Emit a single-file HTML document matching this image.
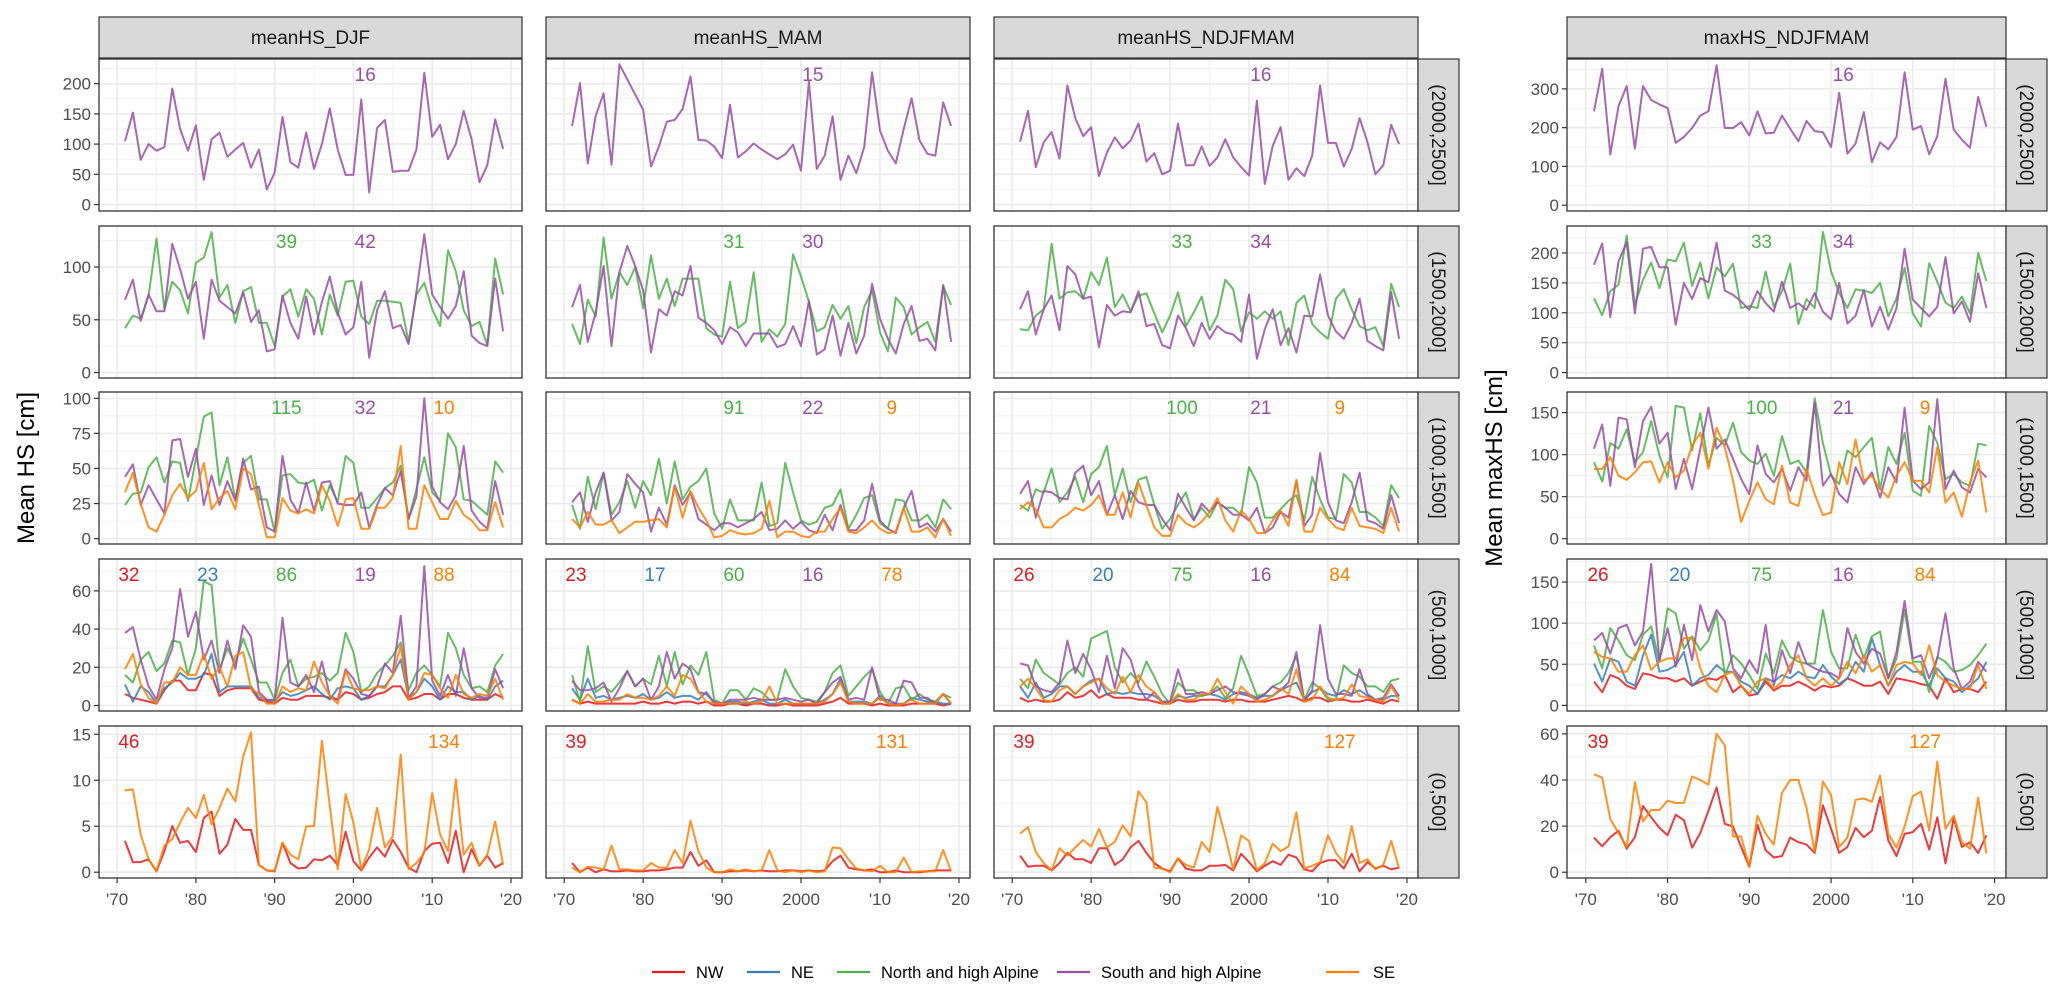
<!DOCTYPE html>
<html><head><meta charset="utf-8"><style>
html,body{margin:0;padding:0;background:#fff;}
svg{display:block;font-family:"Liberation Sans",Arial,sans-serif;}
</style></head><body>
<svg id="chart" width="2067" height="1002" viewBox="0 0 2067 1002" xmlns="http://www.w3.org/2000/svg">
<rect x="0" y="0" width="2067" height="1002" fill="#fff"/>
<text x="0" y="0" transform="translate(34,468) rotate(-90)" text-anchor="middle" font-size="24" fill="#000">Mean HS [cm]</text>
<text x="0" y="0" transform="translate(1502,468) rotate(-90)" text-anchor="middle" font-size="24" fill="#000">Mean maxHS [cm]</text>
<g id="legend" font-size="16.5" fill="#000">
<g><line x1="652" y1="972" x2="685" y2="972" stroke="#E41A1C" stroke-width="2.2"/><text x="696" y="978">NW</text></g>
<g><line x1="747" y1="972" x2="780" y2="972" stroke="#377EB8" stroke-width="2.2"/><text x="791" y="978">NE</text></g>
<g><line x1="837" y1="972" x2="870" y2="972" stroke="#4DAF4A" stroke-width="2.2"/><text x="881" y="978">North and high Alpine</text></g>
<g><line x1="1057" y1="972" x2="1090" y2="972" stroke="#984EA3" stroke-width="2.2"/><text x="1101" y="978">South and high Alpine</text></g>
<g><line x1="1326" y1="972" x2="1359" y2="972" stroke="#FF7F00" stroke-width="2.2"/><text x="1373" y="978">SE</text></g>
</g>
</svg>
<script>
// ---------- data ----------
const years = Array.from({length:49},(_,i)=>1971+i);
const xTickValues = [1970,1980,1990,2000,2010,2020];
const xTickLabels = ["'70","'80","'90","2000","'10","'20"];
const columnTitles = ["meanHS_DJF","meanHS_MAM","meanHS_NDJFMAM","maxHS_NDJFMAM"];
const rowTitles = ["(2000,2500]","(1500,2000]","(1000,1500]","(500,1000]","(0,500]"];
const regions = ["NW","NE","N","S","SE"];

// row 1 (2000,2500]
const djf_r1_S = [105,152,74,100,89,95,192,125,89,131,41,108,119,79,91,102,61,91,25,53,145,70,61,119,59,100,159,91,49,49,174,20,127,140,54,56,56,91,218,112,132,75,100,155,108,37,65,141,92];
const mam_r1_S = [130,201,68,147,184,66,232,207,182,157,63,96,137,140,158,212,107,106,96,77,165,78,88,101,91,83,75,83,99,56,203,59,81,146,41,81,52,95,219,122,89,68,125,176,106,84,81,169,130];
const ndj_r1_S = [104,155,62,103,120,76,197,143,113,128,47,86,111,93,106,134,71,85,50,56,134,65,65,96,64,78,108,78,62,48,172,34,97,128,41,60,47,81,197,102,102,63,92,143,103,50,65,132,100];
const max_r1_S = [242,352,131,255,307,146,307,271,260,251,161,176,199,231,242,361,199,199,214,180,242,185,187,231,197,165,217,191,188,150,290,133,159,240,111,162,144,176,343,195,204,131,178,326,195,169,148,279,202];
// row 2 (1500,2000]
const djf_r2_S = [69,88,49,74,58,58,122,98,70,86,32,88,68,62,56,76,48,59,20,22,73,47,32,72,36,67,91,57,36,43,86,14,59,77,42,45,27,76,131,74,62,51,63,96,35,28,25,89,39];
const djf_r2_N = [42,54,51,73,127,60,86,78,56,104,109,133,71,83,47,77,81,47,47,25,72,79,53,79,70,36,74,54,86,87,53,46,68,68,67,66,29,74,85,60,44,116,96,59,44,48,26,108,74];
const mam_r2_S = [62,83,29,57,101,25,95,120,101,78,19,60,54,77,73,101,52,47,40,27,43,38,25,37,37,37,24,27,44,25,68,17,22,54,16,47,18,35,84,51,32,18,46,63,30,32,21,83,29];
const mam_r2_N = [46,27,69,53,128,70,95,83,100,61,111,70,89,63,89,89,89,42,36,34,86,42,48,95,29,41,34,46,112,91,67,39,43,64,51,63,28,62,78,38,20,71,62,36,43,48,29,82,64];
const ndj_r2_S = [60,77,36,60,73,40,101,93,70,72,24,64,54,58,57,77,44,46,26,23,54,42,25,47,32,44,38,36,29,74,13,41,60,26,42,19,54,53,93,54,39,32,47,70,30,25,21,76,32];
const ndj_r2_N = [41,40,54,60,122,70,76,77,70,95,83,109,62,74,58,73,75,56,38,54,76,44,57,72,40,54,88,79,39,57,51,58,51,58,26,66,73,46,38,32,70,79,60,44,40,43,25,84,62];
const max_r2_S = [180,216,93,186,218,99,207,210,176,176,80,150,123,158,151,217,137,130,119,105,136,116,102,152,108,116,105,133,102,89,150,82,95,138,77,110,72,108,207,122,108,94,110,193,99,119,85,166,108];
const max_r2_N = [124,96,136,147,229,113,155,184,141,189,186,217,145,184,124,176,161,182,108,111,108,169,110,136,182,81,123,108,235,169,133,108,139,137,133,150,94,124,175,99,77,183,152,117,108,127,99,200,153];
// row 3 (1000,1500]
const djf_r3_N = [24,32,33,51,58,40,55,54,27,57,87,90,38,58,28,54,59,28,28,5,45,46,40,39,42,20,38,26,59,54,22,22,29,36,40,52,14,35,58,33,27,75,65,28,27,22,17,55,47];
const djf_r3_S = [44,53,24,38,28,18,70,71,44,64,24,45,24,41,27,57,35,37,8,5,59,28,18,40,20,40,41,25,24,24,33,8,24,36,31,48,14,30,100,37,26,21,31,66,20,12,7,41,17];
const djf_r3_SE = [33,47,25,8,5,17,31,39,29,34,54,21,29,34,21,50,46,24,1,1,29,20,18,21,18,38,27,9,28,29,7,7,22,22,29,66,7,7,38,26,14,14,27,17,13,6,6,26,8];
const mam_r3_N = [24,7,44,21,47,17,26,41,22,41,31,57,25,55,28,37,41,50,18,7,28,13,13,13,40,9,11,54,33,13,10,12,22,24,35,7,17,29,31,11,7,28,27,13,13,17,8,28,21];
const mam_r3_S = [26,33,12,33,47,13,19,46,39,33,5,22,10,38,24,33,14,10,6,11,11,8,11,14,19,6,7,13,7,12,6,4,17,6,24,6,6,13,39,13,7,4,22,34,8,11,5,14,5];
const mam_r3_SE = [14,8,19,10,10,13,4,8,12,12,13,14,8,37,15,34,22,13,1,2,6,4,3,4,7,27,1,5,5,2,1,5,5,14,22,5,4,8,13,7,4,5,22,5,5,8,1,14,2];
const ndj_r3_N = [24,20,35,33,50,26,33,44,26,46,51,66,31,50,26,42,44,24,7,14,24,33,14,22,15,26,22,22,17,51,40,15,15,21,27,31,13,44,28,15,14,46,40,19,19,15,9,38,29];
const ndj_r3_S = [32,41,15,34,33,29,28,47,52,31,41,17,31,14,34,26,24,24,14,6,32,22,13,25,19,26,22,17,17,13,22,4,8,19,15,41,9,17,61,26,13,11,26,47,13,11,7,31,11];
const ndj_r3_SE = [21,26,21,8,8,14,17,22,20,24,31,17,17,33,15,40,24,8,2,2,17,11,8,12,19,29,13,5,20,14,4,4,13,20,9,42,5,5,22,14,8,6,22,9,8,7,4,22,5];
const max_r3_N = [91,68,114,107,130,91,103,140,99,73,158,156,105,149,87,120,111,138,103,93,89,101,75,122,89,93,79,167,114,75,65,105,97,109,120,59,109,89,126,57,51,134,114,71,77,67,63,113,111];
const max_r3_S = [107,136,63,144,142,85,140,157,113,126,59,95,59,107,156,107,118,95,71,53,111,77,67,83,57,85,69,162,63,77,53,43,85,65,79,49,85,67,156,69,59,67,166,59,81,61,55,83,73];
const max_r3_SE = [83,83,97,75,70,79,91,92,67,91,73,81,111,126,83,132,109,69,20,45,67,47,41,87,43,39,83,53,28,31,91,65,118,69,75,59,49,75,91,69,69,55,109,43,55,26,67,93,31];
// row 4 (500,1000]
const djf_r4_S = [38,41,24,10,3,19,30,61,36,49,24,34,17,34,19,42,36,7,3,3,46,12,10,16,7,23,5,3,19,14,6,5,10,22,17,47,4,10,73,13,5,16,5,30,9,4,4,19,9];
const djf_r4_N = [16,12,24,28,18,22,34,33,16,30,65,63,19,30,22,35,24,12,12,3,17,24,10,14,15,17,13,17,38,28,7,10,17,21,26,33,8,17,21,16,10,38,30,16,9,10,7,21,27];
const djf_r4_NE = [11,2,10,7,1,9,12,17,14,14,16,27,7,10,10,10,10,4,3,2,7,5,6,8,10,6,3,9,10,9,3,5,10,10,16,24,4,7,14,10,3,10,7,7,3,5,3,10,13];
const djf_r4_NW = [6,4,3,2,1,8,13,13,8,8,17,16,5,8,9,9,9,3,2,1,4,3,3,5,5,5,4,3,7,6,3,4,6,7,10,10,3,4,6,6,3,6,6,4,3,3,3,6,4];
const djf_r4_SE = [19,27,11,4,1,12,12,20,16,16,27,14,20,10,26,28,9,6,1,1,10,7,9,8,23,12,5,1,18,9,8,8,10,9,16,31,3,7,17,16,9,4,16,6,4,6,5,14,3];
const mam_r4_N = [16,2,31,7,10,7,12,18,10,14,11,26,10,28,11,21,16,28,3,1,8,8,3,9,7,3,3,19,10,4,3,2,7,17,21,5,10,15,19,7,1,9,10,3,6,3,2,6,4];
const mam_r4_S = [13,8,8,9,12,2,9,18,10,14,3,10,28,14,22,19,7,6,2,1,3,3,3,4,3,3,3,4,3,2,3,1,7,12,15,3,4,3,20,3,3,1,13,12,4,4,1,6,1];
const mam_r4_NE = [9,3,14,4,5,3,4,5,4,6,3,4,7,4,5,5,3,7,1,1,2,2,1,2,3,1,1,3,1,1,1,1,3,6,14,2,2,2,1,5,1,1,1,4,3,2,2,1,1];
const mam_r4_NW = [3,1,2,1,1,1,1,1,1,2,1,1,2,1,2,2,1,2,0,0,1,1,0,1,1,0,0,1,0,0,0,0,1,2,4,1,1,1,0,1,0,0,0,1,1,1,1,0,1];
const mam_r4_SE = [3,1,6,2,2,3,3,6,4,4,3,5,10,5,16,14,7,2,1,1,1,1,2,1,2,10,1,1,1,1,1,1,2,6,12,2,1,1,1,4,1,0,1,3,1,1,1,6,1];
const ndj_r4_N = [14,9,24,17,14,11,17,20,15,35,37,39,20,12,17,12,23,15,6,1,12,8,8,5,6,10,4,9,26,16,5,6,10,12,17,26,3,12,9,3,3,21,17,15,10,10,7,13,14];
const ndj_r4_S = [22,21,10,8,7,12,34,17,27,19,7,26,9,30,24,10,3,7,2,2,19,6,6,7,6,8,10,7,6,5,3,6,10,8,12,28,2,8,42,14,6,6,5,19,6,3,4,11,5];
const ndj_r4_NE = [10,4,12,4,6,10,10,6,10,13,14,6,7,6,7,6,6,5,2,1,5,4,5,5,6,5,3,6,7,6,4,5,5,8,10,12,3,7,9,6,5,8,6,8,5,3,3,5,5];
const ndj_r4_NW = [4,2,3,2,2,3,7,4,5,8,4,6,4,4,4,3,3,2,1,1,3,2,2,3,3,3,2,3,3,2,2,2,3,4,5,4,2,4,4,2,3,3,2,2,3,2,1,3,2];
const ndj_r4_SE = [10,14,9,3,2,8,10,6,10,12,14,9,6,15,7,16,10,7,1,1,6,3,3,6,6,14,7,1,10,6,2,3,5,9,6,19,2,3,10,4,3,4,11,5,4,3,2,10,3];
const max_r4_S = [79,88,63,94,98,73,90,172,55,94,47,98,55,122,90,116,102,45,33,55,39,98,24,67,39,77,51,45,41,39,33,94,65,51,69,63,33,65,127,57,61,33,57,112,45,20,29,53,41];
const max_r4_N = [73,45,94,79,61,55,86,96,53,118,112,69,84,67,79,111,37,61,51,37,20,63,39,79,59,53,51,51,116,65,45,45,86,57,84,90,33,57,116,53,53,16,59,53,41,43,49,61,75];
const max_r4_NE = [51,29,57,53,29,24,61,86,41,43,49,65,24,33,37,49,41,41,29,24,14,33,29,37,33,41,35,33,49,35,26,33,53,41,82,49,24,41,49,41,41,24,45,33,29,16,24,33,53];
const max_r4_NW = [29,16,37,33,24,20,39,37,33,33,29,33,24,29,33,31,37,16,24,12,14,29,18,24,24,29,24,18,24,22,24,33,29,24,24,29,14,33,31,29,26,24,8,33,16,20,20,16,29];
const max_r4_SE = [65,59,57,41,41,61,73,43,53,57,57,82,82,45,24,16,37,41,24,14,29,33,20,29,49,61,33,24,33,24,33,53,39,61,41,49,24,49,53,51,37,73,37,29,24,20,20,49,20];
// row 5 (0,500]
const djf_r5_NW = [3.4,1.1,1.1,1.4,0.1,2.3,5.0,3.2,3.4,2.2,5.9,6.6,2.0,3.0,5.8,4.6,4.6,0.8,0.2,0.1,3.2,1.0,0.4,0.5,1.4,1.3,1.8,0.8,4.4,1.2,0.2,1.6,2.7,1.7,3.5,2.2,0.5,0,2.3,3.1,3.2,1.0,4.5,0,2.5,0.7,1.8,0.5,1.0];
const djf_r5_SE = [8.9,9.0,4.1,1.4,0.1,2.9,3.6,5.4,7.0,5.9,8.4,5.2,7.0,9.1,7.7,12.6,15.2,0.8,0.2,0.1,3.2,1.9,1.4,5.0,5.0,14.3,7.2,0.3,8.5,5.4,0.3,2.5,7.0,2.7,3.9,12.8,0.3,1.0,2.1,8.6,4.1,2.3,10.1,1.9,3.2,0.7,1.9,5.5,0.8];
const mam_r5_NW = [1.0,0,0.5,0,0.3,0.1,0.1,0.2,0.1,0.1,0.2,0.2,0.3,0.5,0.5,2.2,0.7,1.3,0,0,0.1,0.1,0.2,0.1,0.2,0.1,0.1,0.2,0.2,0.1,0.2,0.1,0.2,1.2,1.8,0.5,0.3,0.2,0.3,0,0,0.2,0,0,0,0.1,0.2,0.2,0.2];
const mam_r5_SE = [0.5,0,0.6,0.5,0.3,2.9,0.3,0.3,0.2,0.2,1.0,0.5,0.5,2.4,1.0,5.6,2.3,0.5,0,0,0.3,0.1,0.3,0.1,0.2,2.4,0.2,0,0.2,0,0.2,0,0.1,2.7,2.6,1.4,0.4,0.2,0.1,0.7,0,0,1.6,0,0.1,0.1,0.1,2.4,0.1];
const ndj_r5_NW = [1.8,0.6,0.7,0.7,0.2,1.0,2.1,1.4,1.4,1.0,2.6,2.6,0.8,1.4,2.7,3.4,2.1,1.0,0.4,0.1,1.5,0.4,0.2,0.2,0.7,0.7,0.8,0.2,2.0,1.1,0.1,0.7,1.2,0.8,1.9,1.6,0.3,0.1,1.0,1.3,1.3,0.4,2.0,0.1,1.1,0.4,0.7,0.3,0.5];
const ndj_r5_SE = [4.2,4.9,2.2,1.0,0.2,2.6,1.8,2.7,3.5,2.8,4.7,2.7,3.3,5.1,3.9,8.8,7.6,0.5,0.4,0,1.5,0.8,0.5,3.3,2.2,7.1,3.9,0.3,4.0,3.4,0.2,1.0,3.1,2.3,2.8,6.5,0.4,0.7,1.1,4.0,2.1,1.0,5.0,1.0,1.4,0.3,0.8,3.4,0.4];
const max_r5_NW = [15,11.2,15.2,18,10.2,15.2,28.7,23.8,19.2,16,24.9,22.6,10.7,17,26.6,36.8,21,19.8,11,2.4,20.6,9.5,6.4,7,15,13,12,8.4,29,18.8,8.4,11,19.2,15.2,18,32.6,13.8,7,16.6,17.4,21,9.8,23.8,3.8,23.5,11,13,8.4,16];
const max_r5_SE = [42.5,41,23,17,11,39,22,27,27,31,30,30,41.5,40,38,60,55,15.5,15.5,2.4,24.5,16.6,12,34.4,40,40,28,8.8,39.4,33.4,11,15,31.4,32,30.6,42,16.6,10.7,19.8,33,35,18,48,18.8,24.5,13,10.2,32.3,8.1];

// count labels per row (NW, NE, North, South, SE)
const counts_djf = [[null,null,null,16,null],[null,null,39,42,null],[null,null,115,32,10],[32,23,86,19,88],[46,null,null,null,134]];
const counts_mam = [[null,null,null,15,null],[null,null,31,30,null],[null,null,91,22,9],[23,17,60,16,78],[39,null,null,null,131]];
const counts_ndj = [[null,null,null,16,null],[null,null,33,34,null],[null,null,100,21,9],[26,20,75,16,84],[39,null,null,null,127]];
const counts_max = [[null,null,null,16,null],[null,null,33,34,null],[null,null,100,21,9],[26,20,75,16,84],[39,null,null,null,127]];
const countYears = [1971.5,1981.5,1991.5,2001.5,2011.5];

// y ticks
const yTicksMean = [[0,50,100,150,200],[0,50,100],[0,25,50,75,100],[0,20,40,60],[0,5,10,15]];
const yTicksMax = [[0,100,200,300],[0,50,100,150,200],[0,50,100,150],[0,50,100,150],[0,20,40,60]];
const yDomMean = [[-10.7,240.8],[-5.2,138.9],[-3.8,104.5],[-2.9,76.7],[-0.63,15.9]];
const yDomMax = [[-15,377],[-9,245],[-6.3,174.5],[-6.8,178],[-2.5,63.4]];

// ---------- layout ----------
const COLX = [[99,522],[546,970],[994,1418],[1567,2006]];
const ROWY = [59,226,392,559,726];
const PH = 152;
const XDOM = [1967.7,2021.4];
const COLORS = {NW:"#E41A1C",NE:"#377EB8",N:"#4DAF4A",S:"#984EA3",SE:"#FF7F00"};
const RNAME = {NW:"nw",NE:"ne",N:"north-alpine",S:"south-alpine",SE:"se"};

const panelSeries = [
 [ {S:djf_r1_S}, {N:djf_r2_N,S:djf_r2_S}, {N:djf_r3_N,S:djf_r3_S,SE:djf_r3_SE}, {NW:djf_r4_NW,NE:djf_r4_NE,N:djf_r4_N,S:djf_r4_S,SE:djf_r4_SE}, {NW:djf_r5_NW,SE:djf_r5_SE} ],
 [ {S:mam_r1_S}, {N:mam_r2_N,S:mam_r2_S}, {N:mam_r3_N,S:mam_r3_S,SE:mam_r3_SE}, {NW:mam_r4_NW,NE:mam_r4_NE,N:mam_r4_N,S:mam_r4_S,SE:mam_r4_SE}, {NW:mam_r5_NW,SE:mam_r5_SE} ],
 [ {S:ndj_r1_S}, {N:ndj_r2_N,S:ndj_r2_S}, {N:ndj_r3_N,S:ndj_r3_S,SE:ndj_r3_SE}, {NW:ndj_r4_NW,NE:ndj_r4_NE,N:ndj_r4_N,S:ndj_r4_S,SE:ndj_r4_SE}, {NW:ndj_r5_NW,SE:ndj_r5_SE} ],
 [ {S:max_r1_S}, {N:max_r2_N,S:max_r2_S}, {N:max_r3_N,S:max_r3_S,SE:max_r3_SE}, {NW:max_r4_NW,NE:max_r4_NE,N:max_r4_N,S:max_r4_S,SE:max_r4_SE}, {NW:max_r5_NW,SE:max_r5_SE} ]
];
const panelCounts = [counts_djf,counts_mam,counts_ndj,counts_max];

const NS = "http://www.w3.org/2000/svg";
const svg = document.getElementById('chart');
const legendNode = document.getElementById('legend');
function el(tag, attrs, parent){
  const e = document.createElementNS(NS, tag);
  for (const k in attrs) e.setAttribute(k, attrs[k]);
  (parent||svg).insertBefore(e, parent ? null : legendNode);
  return e;
}
function xScale(c, yr){ const [a,b]=COLX[c]; return a + (yr-XDOM[0])/(XDOM[1]-XDOM[0])*(b-a); }
function yScale(c, r, v){ const d = c===3 ? yDomMax[r] : yDomMean[r]; const y0=ROWY[r]; return y0+PH - (v-d[0])/(d[1]-d[0])*PH; }

for (let c=0;c<4;c++){
  const [x0,x1] = COLX[c];
  const strip = el('rect',{x:x0,y:17,width:x1-x0,height:41,fill:'#D9D9D9',stroke:'#333',"stroke-width":1.2});
  
  
  const st = el('text',{x:(x0+x1)/2,y:44,'text-anchor':'middle','font-size':19,fill:'#1A1A1A'});
  st.textContent = columnTitles[c];
  
  
  for (let r=0;r<5;r++){
    const y0 = ROWY[r];
    const g = el('g',{});
    
    
    el('rect',{x:x0,y:y0,width:x1-x0,height:PH,fill:'#fff'},g);
    const dom = c===3 ? yDomMax[r] : yDomMean[r];
    const ticks = c===3 ? yTicksMax[r] : yTicksMean[r];
    const step = ticks[1]-ticks[0];
    for (let v=ticks[0]-step/2; v<=dom[1]; v+=step){
      if (v<dom[0]) continue;
      el('line',{x1:x0,x2:x1,y1:yScale(c,r,v),y2:yScale(c,r,v),stroke:'#F2F2F2','stroke-width':1},g);
    }
    for (let yr=1965; yr<=2025; yr+=10){
      if (yr<XDOM[0]||yr>XDOM[1]) continue;
      el('line',{x1:xScale(c,yr),x2:xScale(c,yr),y1:y0,y2:y0+PH,stroke:'#F2F2F2','stroke-width':1},g);
    }
    ticks.forEach(v=>{ el('line',{x1:x0,x2:x1,y1:yScale(c,r,v),y2:yScale(c,r,v),stroke:'#EBEBEB','stroke-width':1.6},g); });
    xTickValues.forEach(yr=>{ el('line',{x1:xScale(c,yr),x2:xScale(c,yr),y1:y0,y2:y0+PH,stroke:'#EBEBEB','stroke-width':1.6},g); });
    if (c===0||c===3){
      ticks.forEach(v=>{
        const yy = yScale(c,r,v);
        el('line',{x1:x0-5,x2:x0,y1:yy,y2:yy,stroke:'#333','stroke-width':1.2},g);
        const t = el('text',{x:x0-8,y:yy+6,'text-anchor':'end','font-size':17,fill:'#4D4D4D'},g);
        t.textContent = String(v);
        
        
      });
    }
    const series = panelSeries[c][r];
    ["NW","NE","N","S","SE"].forEach(k=>{
      if (!series[k]) return;
      const vals = series[k];
      const pts = vals.map((v,i)=> xScale(c,years[i]).toFixed(1)+','+yScale(c,r,v).toFixed(1)).join(' ');
      const pl = el('polyline',{points:pts,fill:'none',stroke:COLORS[k],'stroke-width':2,'stroke-opacity':0.85,'stroke-linejoin':'round'},g);
      
      
    });
    const cnt = panelCounts[c][r];
    cnt.forEach((v,i)=>{
      if (v===null) return;
      const t = el('text',{x:xScale(c,countYears[i]),y:y0+22,'text-anchor':'middle','font-size':19,fill:COLORS[regions[i]]},g);
      t.textContent = String(v);
      
      
    });
    el('rect',{x:x0,y:y0,width:x1-x0,height:PH,fill:'none',stroke:'#333','stroke-width':1.3},g);
    if (c===2||c===3){
      const rs = el('rect',{x:x1,y:y0,width:41,height:PH,fill:'#D9D9D9',stroke:'#333','stroke-width':1.2});
      
      
      const rt = el('text',{x:0,y:0,transform:'translate('+(x1+14)+','+(y0+PH/2)+') rotate(90)','text-anchor':'middle','font-size':19,fill:'#1A1A1A'});
      rt.textContent = rowTitles[r];
      
      
    }
    if (r===4){
      xTickValues.forEach((yr,i)=>{
        const xx = xScale(c,yr);
        el('line',{x1:xx,x2:xx,y1:y0+PH,y2:y0+PH+5,stroke:'#333','stroke-width':1.2});
        const t = el('text',{x:xx,y:y0+PH+27,'text-anchor':'middle','font-size':17,fill:'#4D4D4D'});
        t.textContent = xTickLabels[i];
        
        
      });
    }
  }
}
</script>
</body></html>
